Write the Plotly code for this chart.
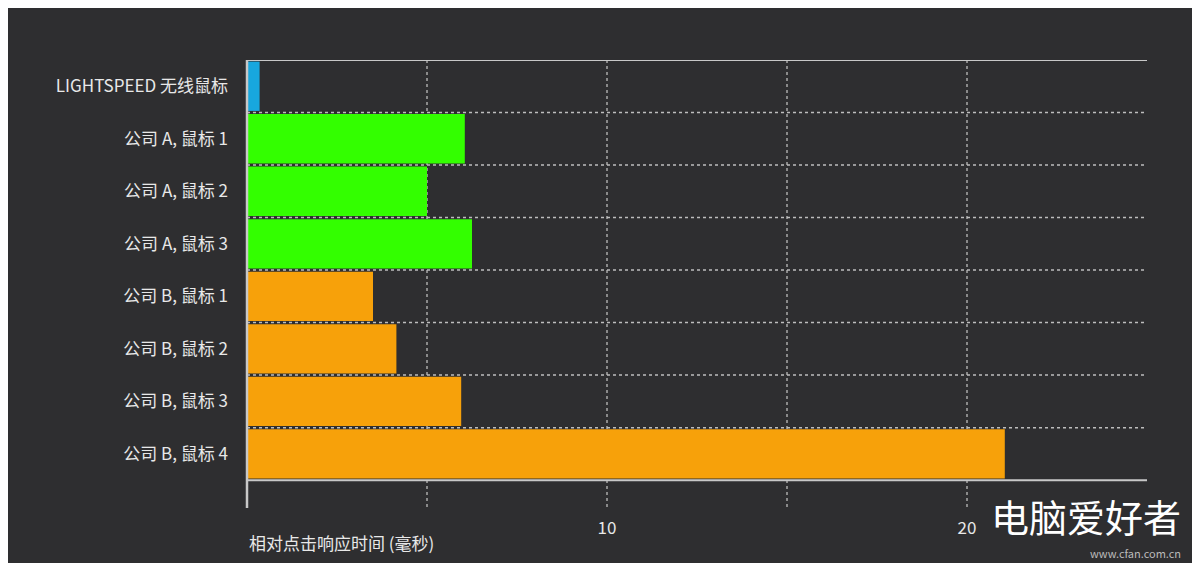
import plotly.graph_objects as go

labels = ["LIGHTSPEED 无线鼠标", "公司 A, 鼠标 1", "公司 A, 鼠标 2", "公司 A, 鼠标 3",
          "公司 B, 鼠标 1", "公司 B, 鼠标 2", "公司 B, 鼠标 3", "公司 B, 鼠标 4"]
values = [0.35, 6.05, 5.0, 6.25, 3.5, 4.15, 5.95, 21.05]
colors = ["#18a7de", "#33ff00", "#33ff00", "#33ff00",
          "#f7a10a", "#f7a10a", "#f7a10a", "#f7a10a"]
positions = list(range(len(labels)))

bg = "#2e2e30"
fig = go.Figure(go.Bar(
    x=values, y=positions, orientation="h", width=0.94,
    marker=dict(color=colors, line_width=0), hoverinfo="x+text", text=labels,
    textposition="none",
))

shapes = []
# dotted row separators
for k in range(len(labels) - 1):
    shapes.append(dict(type="line", xref="paper", x0=0, x1=1, yref="y", y0=k + 0.5, y1=k + 0.5,
                       line=dict(color="#bdbdbd", width=1.5, dash="dot"), layer="above"))
# solid top / bottom lines
for yy in (-0.5, len(labels) - 0.5):
    shapes.append(dict(type="line", xref="paper", x0=0, x1=1, yref="y", y0=yy, y1=yy,
                       line=dict(color="#c8c8c8", width=2)))
# left axis line
shapes.append(dict(type="line", xref="paper", x0=0, x1=0, yref="paper", y0=0, y1=1,
                   line=dict(color="#c8c8c8", width=2.5)))

# page body has an 8px margin, so size the figure to fit the window
fig.update_layout(
    width=1184, height=555, paper_bgcolor=bg, plot_bgcolor=bg,
    margin=dict(l=239, r=45, t=52, b=55), showlegend=False,
    font=dict(family="Noto Sans CJK SC", color="#e8e8e8", size=17),
    shapes=shapes,
    xaxis=dict(range=[0, 25], tickvals=[10, 20], showgrid=False, zeroline=False,
               showline=False, ticks="", tickfont=dict(size=17, color="#e8e8e8"),
               ticklabelstandoff=8,
               minor=dict(dtick=5, tick0=0, showgrid=True, gridcolor="#8a8a8a",
                          griddash="dot", gridwidth=1.5)),
    yaxis=dict(range=[8.03, -0.5], tickvals=positions, ticktext=labels, showgrid=False,
               zeroline=False, ticks="", ticklabelstandoff=18,
               tickfont=dict(size=17, color="#e8e8e8")),
    annotations=[
        dict(text="相对点击响应时间 (毫秒)", xref="paper", yref="paper", x=0, y=-0.045,
             xanchor="left", yanchor="top", showarrow=False, font=dict(size=17, color="#e8e8e8")),
        dict(text="电脑爱好者", xref="paper", yref="paper", x=1.04, y=-0.082,
             xanchor="right", yanchor="bottom", showarrow=False,
             font=dict(size=38, color="#ffffff")),
        dict(text="www.cfan.com.cn", xref="paper", yref="paper", x=1.04, y=-0.1,
             xanchor="right", yanchor="middle", showarrow=False,
             font=dict(size=11, color="#bbbbbb")),
    ],
)

fig.write_html("out.html")
